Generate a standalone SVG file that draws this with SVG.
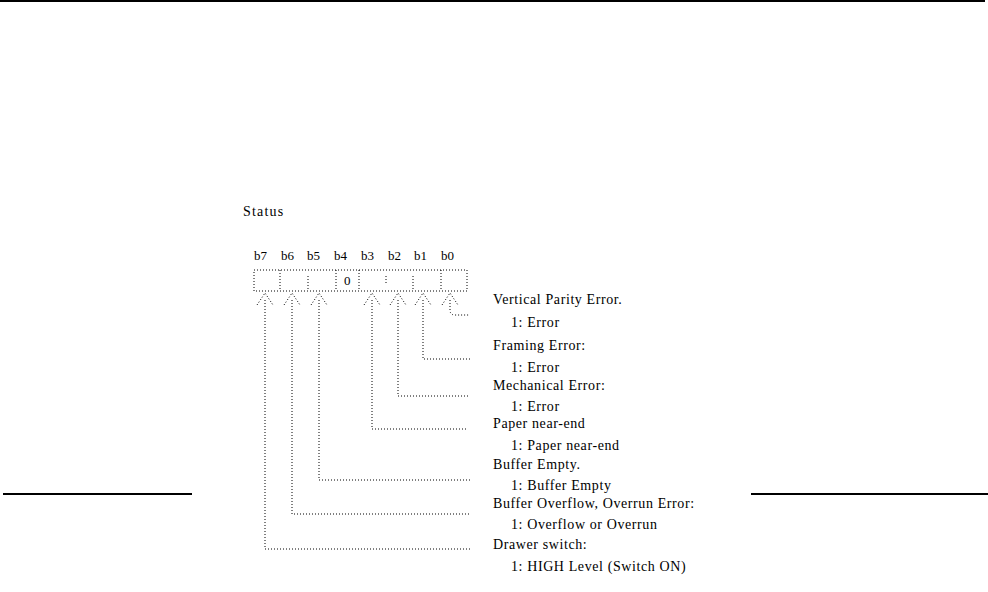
<svg xmlns="http://www.w3.org/2000/svg" width="988" height="592" viewBox="0 0 988 592">
<style>
.rule{stroke:#000;stroke-width:2;fill:none}
.dot{stroke:#000;stroke-width:1;fill:none;stroke-dasharray:1 2}
.t{font-family:"Liberation Serif",serif;font-size:14px;letter-spacing:0.6px;fill:#000}
.b{font-family:"Liberation Serif",serif;font-size:13px;fill:#000}
</style>
<rect width="988" height="592" fill="#fff"/>
<g id="rules">
<line class="rule" x1="0" y1="1" x2="985" y2="1"/>
<line class="rule" x1="3" y1="494" x2="192" y2="494"/>
<line class="rule" x1="751" y1="494" x2="988" y2="494"/>
</g>
<g id="title"><text class="t" x="243" y="216" style="letter-spacing:1.2px">Status</text></g>
<g id="register">
<text class="b" x="254" y="260">b7</text>
<text class="b" x="281" y="260">b6</text>
<text class="b" x="307" y="260">b5</text>
<text class="b" x="334" y="260">b4</text>
<text class="b" x="361" y="260">b3</text>
<text class="b" x="388" y="260">b2</text>
<text class="b" x="414" y="260">b1</text>
<text class="b" x="441" y="260">b0</text>
<rect class="dot" x="254" y="270" width="213" height="21"/>
<line class="dot" x1="280" y1="270" x2="280" y2="291"/>
<line class="dot" x1="308" y1="276" x2="308" y2="291"/>
<line class="dot" x1="336" y1="270" x2="336" y2="291"/>
<line class="dot" x1="359" y1="270" x2="359" y2="291"/>
<line class="dot" x1="386" y1="276" x2="386" y2="285"/>
<line class="dot" x1="413" y1="276" x2="413" y2="291"/>
<line class="dot" x1="441" y1="270" x2="441" y2="291"/>
<text class="b" x="344" y="285">0</text>
</g>
<g id="connectors">
<path class="dot" d="M257,305 L265,293 L273,305 M265,300 V549 H470"/>
<path class="dot" d="M284,305 L292,293 L300,305 M292,300 V514 H470"/>
<path class="dot" d="M311,305 L319,293 L327,305 M319,300 V480 H472"/>
<path class="dot" d="M364,305 L372,293 L380,305 M372,300 V429 H468"/>
<path class="dot" d="M390,305 L398,293 L406,305 M398,300 V396 H470"/>
<path class="dot" d="M415,305 L423,293 L431,305 M423,300 V359 H472"/>
<path class="dot" d="M442,305 L450,293 L458,305 M450,300 V310 Q450,315 455,315 H470"/>
</g>
<g id="labels">
<text class="t" x="493" y="304">Vertical Parity Error.</text>
<text class="t" x="511" y="327">1: Error</text>
<text class="t" x="493" y="350">Framing Error:</text>
<text class="t" x="511" y="372">1: Error</text>
<text class="t" x="493" y="390">Mechanical Error:</text>
<text class="t" x="511" y="411">1: Error</text>
<text class="t" x="493" y="428">Paper near-end</text>
<text class="t" x="511" y="450">1: Paper near-end</text>
<text class="t" x="493" y="469">Buffer Empty.</text>
<text class="t" x="511" y="490">1: Buffer Empty</text>
<text class="t" x="493" y="508">Buffer Overflow, Overrun Error:</text>
<text class="t" x="511" y="529">1: Overflow or Overrun</text>
<text class="t" x="493" y="549">Drawer switch:</text>
<text class="t" x="511" y="571">1: HIGH Level (Switch ON)</text>
</g>
</svg>
